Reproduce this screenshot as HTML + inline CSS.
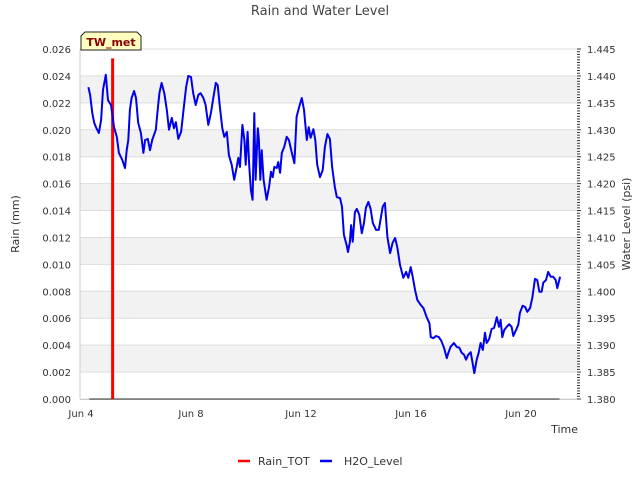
<!DOCTYPE html>
<html><head><meta charset="utf-8"><style>
body{margin:0;background:#fff;font-family:"DejaVu Sans","Liberation Sans",sans-serif;}
svg text{font-family:"DejaVu Sans","Liberation Sans",sans-serif;}
</style></head><body>
<svg id="chart" width="640" height="480" xmlns="http://www.w3.org/2000/svg">
<g id="bands"></g>
<g id="grid"></g>
<g id="lefttick"></g>
<g id="righttick"></g>
<g id="xtick"></g>
<g id="series"></g>
<text x="320" y="15" text-anchor="middle" font-size="13" fill="#444">Rain and Water Level</text>
<text transform="translate(19,224) rotate(-90)" text-anchor="middle" font-size="11" fill="#333">Rain (mm)</text>
<text transform="translate(630,224) rotate(-90)" text-anchor="middle" font-size="11" fill="#333">Water Level (psi)</text>
<text x="578" y="433" text-anchor="end" font-size="11" fill="#333">Time</text>
<g>
<polygon points="85,32 137,32 141,36 141,50 81,50 81,36" fill="#ffffc0" stroke="#222" stroke-width="1"/>
<text x="111" y="46" text-anchor="middle" font-size="11" font-weight="bold" fill="#8b0000">TW_met</text>
</g>
<g>
<g><line x1="238" y1="461" x2="250" y2="461" stroke="#f00" stroke-width="2.5"/><text x="258" y="465" font-size="11" fill="#333">Rain_TOT</text></g>
<g><line x1="320" y1="461" x2="332" y2="461" stroke="#00f" stroke-width="2.5"/><text x="344" y="465" font-size="11" fill="#333">H2O_Level</text></g>
</g>
</svg>
<script>
const rainDays=[0.3,1.12,1.15,1.18,17.4];
const rainVals=[0,0,0.0253,0,0];
const levelDays=[0.27,0.33,0.41,0.48,0.56,0.65,0.73,0.80,0.90,0.98,1.09,1.20,1.30,1.38,1.50,1.60,1.66,1.72,1.78,1.84,1.93,2.00,2.08,2.18,2.27,2.33,2.43,2.51,2.59,2.72,2.79,2.85,2.93,3.03,3.12,3.20,3.30,3.38,3.45,3.54,3.64,3.72,3.82,3.90,4.00,4.08,4.17,4.27,4.35,4.45,4.53,4.63,4.73,4.81,4.90,4.97,5.05,5.14,5.21,5.30,5.38,5.48,5.57,5.66,5.72,5.78,5.87,5.94,5.99,6.06,6.12,6.18,6.24,6.30,6.35,6.43,6.47,6.52,6.57,6.64,6.75,6.84,6.91,6.97,7.03,7.12,7.17,7.24,7.30,7.39,7.48,7.56,7.66,7.76,7.84,7.93,8.03,8.11,8.21,8.28,8.35,8.45,8.52,8.59,8.69,8.79,8.87,8.96,9.05,9.13,9.23,9.30,9.42,9.49,9.56,9.66,9.71,9.78,9.82,9.88,9.96,10.03,10.12,10.21,10.29,10.36,10.45,10.53,10.61,10.73,10.83,10.90,10.97,11.05,11.14,11.24,11.33,11.42,11.50,11.60,11.72,11.82,11.90,11.99,12.06,12.15,12.23,12.35,12.45,12.57,12.67,12.72,12.81,12.91,13.01,13.10,13.20,13.30,13.36,13.44,13.56,13.66,13.76,13.84,13.93,14.00,14.08,14.17,14.24,14.30,14.39,14.46,14.53,14.61,14.69,14.75,14.84,14.93,15.02,15.12,15.20,15.26,15.32,15.39,15.48,15.57,15.66,15.72,15.82,15.90,15.96,16.06,16.15,16.23,16.33,16.41,16.51,16.59,16.67,16.75,16.81,16.91,16.99,17.08,17.17,17.26,17.32,17.42];
const levelVals=[1.4379,1.4365,1.4331,1.4313,1.4303,1.4294,1.4318,1.4374,1.4402,1.4355,1.4346,1.4305,1.4287,1.4257,1.4244,1.4229,1.4262,1.4281,1.4337,1.4359,1.4372,1.4359,1.4313,1.4294,1.4257,1.4281,1.4283,1.4262,1.4281,1.4300,1.4337,1.4368,1.4387,1.4368,1.4337,1.4300,1.4322,1.4303,1.4314,1.4283,1.4296,1.4333,1.4379,1.4400,1.4398,1.4368,1.4346,1.4365,1.4368,1.4359,1.4346,1.4309,1.4333,1.4359,1.4387,1.4383,1.4342,1.4303,1.4287,1.4296,1.4253,1.4235,1.4207,1.4231,1.4248,1.4231,1.4309,1.4281,1.4235,1.4296,1.4231,1.4188,1.4170,1.4331,1.4207,1.4303,1.4281,1.4207,1.4262,1.4207,1.4170,1.4194,1.4222,1.4212,1.4231,1.4229,1.4240,1.4220,1.4257,1.4268,1.4287,1.4281,1.4259,1.4238,1.4324,1.4342,1.4359,1.4337,1.4281,1.4305,1.4285,1.4301,1.4281,1.4235,1.4212,1.4225,1.4268,1.4292,1.4283,1.4231,1.4194,1.4175,1.4173,1.4157,1.4105,1.4086,1.4073,1.4092,1.4123,1.4092,1.4147,1.4153,1.4142,1.4108,1.4127,1.4155,1.4166,1.4153,1.4127,1.4114,1.4114,1.4136,1.4157,1.4164,1.4101,1.4071,1.4090,1.4099,1.4082,1.4049,1.4025,1.4036,1.4025,1.4045,1.4027,1.4002,1.3984,1.3975,1.3969,1.3952,1.3941,1.3915,1.3913,1.3917,1.3915,1.3908,1.3895,1.3876,1.3886,1.3897,1.3904,1.3897,1.3895,1.3886,1.3882,1.3873,1.3882,1.3887,1.3867,1.3848,1.3873,1.3886,1.3904,1.3891,1.3923,1.3904,1.3911,1.3930,1.3932,1.3952,1.3934,1.3947,1.3915,1.3928,1.3934,1.3939,1.3934,1.3917,1.3928,1.3938,1.3960,1.3973,1.3971,1.3962,1.3969,1.3988,1.4023,1.4021,1.3999,1.3999,1.4016,1.4021,1.4036,1.4027,1.4027,1.4021,1.4006,1.4027];
const leftTicks=["0.000","0.002","0.004","0.006","0.008","0.010","0.012","0.014","0.016","0.018","0.020","0.022","0.024","0.026"];
const rightTicks=["1.380","1.385","1.390","1.395","1.400","1.405","1.410","1.415","1.420","1.425","1.430","1.435","1.440","1.445"];
const xTickDays=[0,4,8,12,16];
const xTickLabels=["Jun 4","Jun 8","Jun 12","Jun 16","Jun 20"];

const X0=80,X1=577,Y0=399,Y1=49;
const xs=d=>81+d*27.5;
const yl=v=>Y0-(v-0)/(0.026)*(Y0-Y1);
const yr=v=>Y0-(v-1.380)/(0.065)*(Y0-Y1);
const NS="http://www.w3.org/2000/svg";
function mk(tag,attrs,parent){const e=document.createElementNS(NS,tag);for(const k in attrs)e.setAttribute(k,attrs[k]);parent.appendChild(e);return e;}
const bands=document.getElementById('bands'),grid=document.getElementById('grid'),lt=document.getElementById('lefttick'),rt=document.getElementById('righttick'),xt=document.getElementById('xtick'),ser=document.getElementById('series');
for(let i=1;i<leftTicks.length-1;i+=2){
  const a=parseFloat(leftTicks[i]),b=parseFloat(leftTicks[i+1]);
  const r=mk('rect',{x:X0,y:yl(b),width:X1-X0,height:yl(a)-yl(b),fill:'#f2f2f2'},bands);
  
  
}
leftTicks.forEach(t=>{
  const v=parseFloat(t),y=yl(v);
  const g=mk('line',{x1:X0,x2:X1,y1:y,y2:y,stroke:'#ddd','stroke-width':1},grid);
  
  
  const tx=mk('text',{x:71,y:y+4,'text-anchor':'end','font-size':10,fill:'#333'},lt);
  tx.textContent=t;
  
  
});
mk('line',{x1:X0,x2:X0,y1:Y1,y2:Y0,stroke:'#ccc'},lt);
rightTicks.forEach(t=>{
  const v=parseFloat(t),y=yr(v);
  const tx=mk('text',{x:587,y:y+4,'font-size':10,fill:'#333'},rt);
  tx.textContent=t;
  
  
});
for(let k=0;k<=130;k++){
  const v=1.380+k*0.0005,y=yr(v);
  mk('line',{x1:577,x2:k%10==0?581:580,y1:y,y2:y,stroke:'#333','stroke-width':1},rt);
}
xTickDays.forEach((d,i)=>{
  const tx=mk('text',{x:xs(d),y:417,'text-anchor':'middle','font-size':10,fill:'#333'},xt);
  tx.textContent=xTickLabels[i];
  
  
});
mk('line',{x1:X0,x2:X1,y1:Y0+0.5,y2:Y0+0.5,stroke:'#ccc'},xt);
const zl=mk('line',{x1:xs(rainDays[0]),x2:xs(rainDays[rainDays.length-1]),y1:Y0,y2:Y0,stroke:'#333','stroke-width':1},ser);


rainVals.forEach((v,i)=>{ if(v>0){
  const b=mk('line',{x1:xs(rainDays[i]),x2:xs(rainDays[i]),y1:Y0,y2:yl(v),stroke:'#f00','stroke-width':3},ser);
  
  
}});
const lp=levelDays.map((d,i)=>xs(d).toFixed(1)+','+yr(levelVals[i]).toFixed(1)).join(' ');
const pl=mk('polyline',{points:lp,fill:'none',stroke:'#0000ee','stroke-width':2,'stroke-linejoin':'round'},ser);


</script>
</body></html>
